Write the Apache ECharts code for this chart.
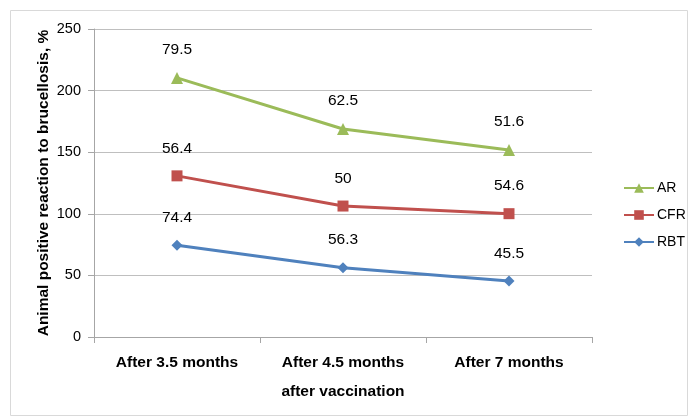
<!DOCTYPE html>
<html><head><meta charset="utf-8">
<script src="https://cdn.jsdelivr.net/npm/echarts@6/dist/echarts.min.js"></script>
<style>html,body{margin:0;padding:0;background:#fff}#c{width:698px;height:417px}</style>
</head><body><div id="c"></div>
<script>
const categories = ['After 3.5 months', 'After 4.5 months', 'After 7 months'];
const rbt = [74.4, 56.3, 45.5];
const cfr = [56.4, 50, 54.6];
const ar = [79.5, 62.5, 51.6];
const yTicks = [0, 50, 100, 150, 200, 250];

const chart = echarts.init(document.getElementById('c'));
const font = 'Liberation Sans, Arial, sans-serif';
function ser(name, data, color, symbol, size) {
  return {
    name, type: 'line', stack: 'total', data,
    symbol, symbolSize: size,
    lineStyle: { color, width: 3 },
    itemStyle: { color },
    label: { show: true, position: 'top', distance: 14, color: '#000', fontSize: 15.5, fontFamily: font },
    animation: false
  };
}
chart.setOption({
  animation: false,
  graphic: [{ type: 'rect', shape: { x: 10.5, y: 10.5, width: 677, height: 405 }, style: { fill: 'none', stroke: '#d9d9d9', lineWidth: 1 } }],
  grid: { left: 94, right: 106, top: 29, bottom: 80 },
  legend: {
    orient: 'vertical', left: 618, top: 176, itemGap: 13, itemWidth: 30, itemHeight: 12,
    textStyle: { fontSize: 14, fontFamily: font, color: '#000', padding: [0, 0, 0, -2] },
    data: ['AR', 'CFR', 'RBT']
  },
  xAxis: {
    type: 'category', data: categories, boundaryGap: true,
    name: 'after vaccination', nameLocation: 'middle', nameGap: 47,
    nameTextStyle: { fontSize: 15.5, fontWeight: 'bold', fontFamily: font, color: '#000' },
    axisLine: { lineStyle: { color: '#a6a6a6' } },
    axisTick: { show: true, length: 6, lineStyle: { color: '#a6a6a6' } },
    axisLabel: { fontSize: 15.5, fontWeight: 'bold', fontFamily: font, color: '#000', margin: 18 }
  },
  yAxis: {
    type: 'value', min: yTicks[0], max: yTicks[yTicks.length - 1], interval: 50,
    name: 'Animal positive reaction to brucellosis, %', nameLocation: 'middle', nameGap: 42,
    nameMoveOverlap: false,
    nameTextStyle: { fontSize: 15.5, fontWeight: 'bold', fontFamily: font, color: '#000' },
    axisLine: { show: true, lineStyle: { color: '#a6a6a6' } },
    axisTick: { show: true, length: 6, lineStyle: { color: '#a6a6a6' } },
    axisLabel: { fontSize: 14.5, fontFamily: font, color: '#000', margin: 13 },
    splitLine: { lineStyle: { color: '#bfbfbf' } }
  },
  series: [
    ser('RBT', rbt, '#4F81BD', 'diamond', 11),
    ser('CFR', cfr, '#C0504D', 'rect', 11),
    ser('AR', ar, '#9BBB59', 'triangle', 12)
  ]
});
</script></body></html>
